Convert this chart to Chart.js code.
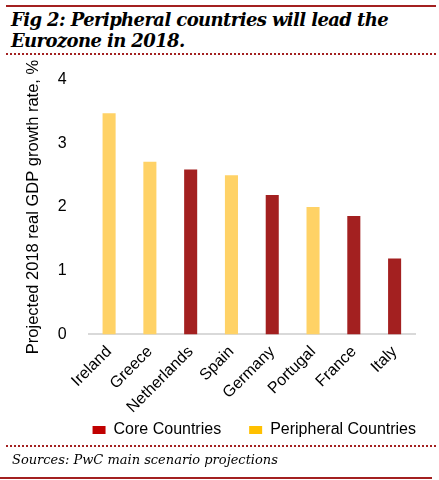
<!DOCTYPE html>
<html>
<head>
<meta charset="utf-8">
<script src="https://cdn.jsdelivr.net/npm/chart.js@4"></script>
<style>
  body { margin: 0; background: #fff; width: 439px; height: 480px; overflow: hidden; position: relative; }
  .topline { position: absolute; left: 6px; top: 5px; width: 430px; height: 2px; background: #A32020; }
  .title { position: absolute; left: 11px; top: 9px; width: 420px; font-family: "DejaVu Serif", serif; font-weight: bold; font-style: italic; font-size: 18px; line-height: 21px; color: #000; letter-spacing: -0.6px; }
  .dots1 { position: absolute; left: 6px; top: 53px; width: 430px; border-top: 2px dotted #A32020; }
  .wrap { position: absolute; left: 0; top: 56px; width: 439px; height: 392px; }
  .dots2 { position: absolute; left: 6px; top: 445px; width: 430px; border-top: 2px dotted #A32020; }
  .source { position: absolute; left: 12px; top: 452px; font-family: "DejaVu Serif", serif; font-style: italic; font-size: 13px; color: #000; }
  .botline { position: absolute; left: 0; top: 477px; width: 432px; height: 2px; background: #A32020; }
</style>
</head>
<body>
<div class="topline"></div>
<div class="title">Fig 2: Peripheral countries will lead the Eurozone in 2018.</div>
<div class="dots1"></div>
<div class="wrap"><canvas id="chart"></canvas></div>
<div class="dots2"></div>
<div class="source">Sources: PwC main scenario projections</div>
<div class="botline"></div>
<script>
const countries = ['Ireland', 'Greece', 'Netherlands', 'Spain', 'Germany', 'Portugal', 'France', 'Italy'];
const coreValues = [null, null, 2.59, null, 2.19, null, 1.86, 1.19];
const peripheralValues = [3.47, 2.71, null, 2.50, null, 2.00, null, null];
const yTicks = [0, 1, 2, 3, 4];

// x labels overlap the legend's empty top padding, legend sits right of centre
const layoutTweaks = {
    id: 'layoutTweaks',
    afterLayout(chart) {
        chart.scales.x.bottom += 23;
        chart.legend.left += 29;
        chart.legend.right += 29;
    }
};

const ctx = document.getElementById('chart').getContext('2d');
new Chart(ctx, {
    type: 'bar',
    data: {
        labels: countries,
        datasets: [{
            label: 'Core Countries',
            data: coreValues,
            backgroundColor: '#A32020'
        }, {
            label: 'Peripheral Countries',
            data: peripheralValues,
            backgroundColor: '#FFD266'
        }]
    },
    options: {
        responsive: true,
        maintainAspectRatio: false,
        animation: false,
        layout: { padding: { left: 24, right: 24, top: 3, bottom: 0 } },
        datasets: { bar: { grouped: false, barPercentage: 0.32, categoryPercentage: 1 } },
        scales: {
            x: {
                grid: { display: false },
                border: { color: '#d9d9d9', width: 2 },
                ticks: { color: '#000', font: { family: 'Liberation Sans, Arial', size: 16 }, maxRotation: 45, minRotation: 45, padding: 0 },
                afterFit: axis => { axis.height -= 23; }
            },
            y: {
                min: 0, max: 4,
                afterBuildTicks: axis => { axis.ticks = yTicks.map(v => ({ value: v })); },
                grid: { display: false },
                border: { display: false },
                ticks: { color: '#000', font: { family: 'Liberation Sans, Arial', size: 16 }, padding: 14 },
                title: { display: true, text: 'Projected 2018 real GDP growth rate, %', color: '#000', font: { family: 'Liberation Sans, Arial', size: 16.5 }, padding: 0 }
            }
        },
        plugins: {
            legend: {
                position: 'bottom',
                align: 'end',
                labels: {
                    color: '#000',
                    font: { family: 'Liberation Sans, Arial', size: 16 },
                    boxWidth: 13, boxHeight: 8, padding: 28,
                    generateLabels: chart => chart.data.datasets.map((ds, i) => ({
                        text: ds.label,
                        fillStyle: i === 0 ? '#C00000' : '#FFC000',
                        strokeStyle: 'transparent',
                        lineWidth: 0,
                        datasetIndex: i
                    }))
                }
            },
            title: { display: false }
        }
    },
    plugins: [layoutTweaks]
});
</script>
</body>
</html>
